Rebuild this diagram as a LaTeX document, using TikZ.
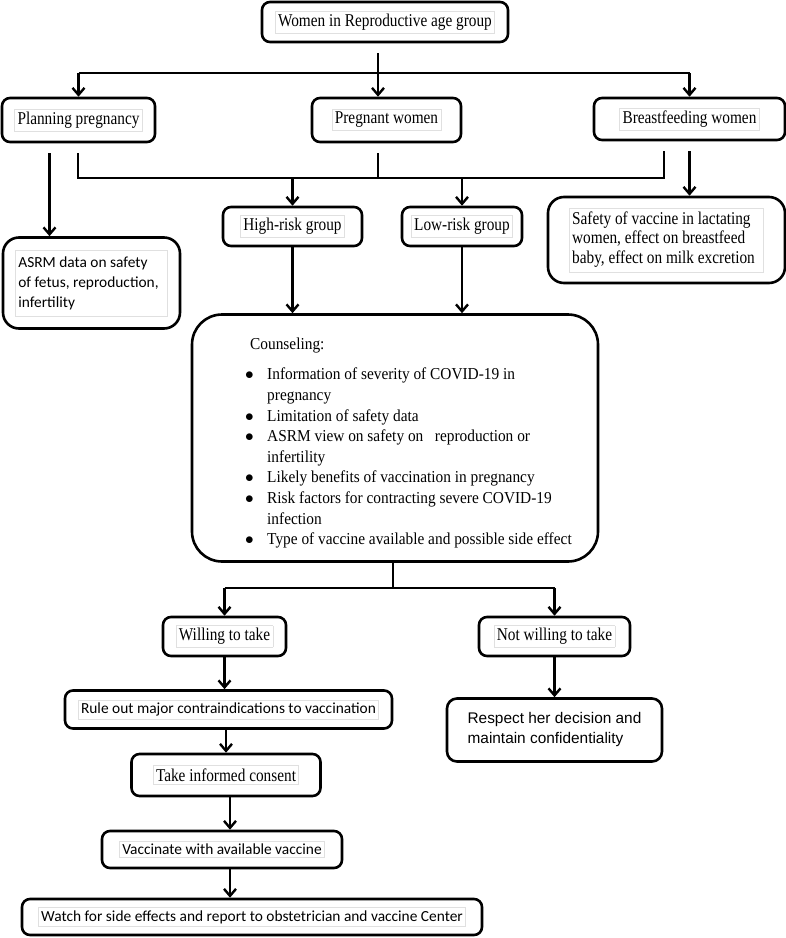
\documentclass[tikz,border=0pt]{standalone}
\usepackage{fontspec}
\setmainfont[FakeStretch=0.85]{Liberation Serif}
\newfontfamily\counselfont[FakeStretch=0.92]{Liberation Serif}
\newfontfamily\calibri{Carlito}
\newfontfamily\arial{Liberation Sans}
\usetikzlibrary{arrows.meta}

% faint frame round the text of a box
\newcommand{\inframe}[1]{{\setlength{\fboxsep}{2.5pt}\setlength{\fboxrule}{0.6pt}\fcolorbox{black!12}{white}{#1}}}
\newcommand{\bul}{\makebox[22pt][l]{\raisebox{0.5ex}{\rule{0pt}{0pt}\kern1pt\textbullet}}}

\tikzset{
  box/.style={draw, line width=2.6pt, rounded corners=8pt, inner sep=0pt,
    font=\fontsize{18}{20}\selectfont},
  roundbox/.style={box, rounded corners=16pt},
  bigbox/.style={box, rounded corners=30pt},
  line/.style={line width=2.4pt},
  arr/.style={line, -{Straight Barb[length=7pt,width=12pt]}},
}

\begin{document}
\begin{tikzpicture}[x=1pt, y=-1pt]
    \useasboundingbox (0,0) rectangle (786,938);

    % first row
    \node (top) [box, minimum width=246, minimum height=40] at (385,22) {\inframe{Women in Reproductive age group}};
    \node (plan) [box, minimum width=153, minimum height=44] at (78.5,120) {\inframe{Planning pregnancy}};
    \node (preg) [box, minimum width=149, minimum height=44] at (386.5,120) {\inframe{Pregnant women}};
    \node (breast) [box, minimum width=191, minimum height=42] at (689.5,119) {\inframe{Breastfeeding women}};

    % second row
    \node (asrm) [roundbox, minimum width=177, minimum height=91, font=\calibri\fontsize{15.4}{20}\selectfont] at (91.5,283)
        {\inframe{\begin{tabular}{@{}l@{\hspace{6pt}}}ASRM data on safety\\of fetus, reproduction,\\infertility\end{tabular}}};
    \node (high) [box, minimum width=139, minimum height=39] at (292.5,226.5) {\inframe{High-risk group}};
    \node (low) [box, minimum width=120, minimum height=39] at (462,226.5) {\inframe{Low-risk group}};
    \node (lact) [roundbox, minimum width=237, minimum height=86, font=\fontsize{18}{19.5}\selectfont] at (666.5,240)
        {\inframe{\begin{tabular}{@{}l@{\hspace{6pt}}}Safety of vaccine in lactating\\women, effect on breastfeed\\baby, effect on milk excretion\end{tabular}}};

    % counseling
    \node (counsel) [bigbox, minimum width=406, minimum height=247] at (395,438) {};
    \node (counseltext) [anchor=north west, align=left, inner sep=0pt, font=\counselfont\fontsize{16.7}{20.6}\selectfont] at (245,338) {%
        \hspace*{5pt}Counseling:\\[9.5pt]
        \makebox[22pt][l]{$\bullet$}Information of severity of COVID-19 in\\
        \hspace*{22pt}pregnancy\\
        \makebox[22pt][l]{$\bullet$}Limitation of safety data\\
        \makebox[22pt][l]{$\bullet$}ASRM view on safety on\ \ \ reproduction or\\
        \hspace*{22pt}infertility\\
        \makebox[22pt][l]{$\bullet$}Likely benefits of vaccination in pregnancy\\
        \makebox[22pt][l]{$\bullet$}Risk factors for contracting severe COVID-19\\
        \hspace*{22pt}infection\\
        \makebox[22pt][l]{$\bullet$}Type of vaccine available and possible side effect};

    % decision
    \node (willing) [box, minimum width=123, minimum height=39] at (224.5,636.5) {\inframe{Willing to take}};
    \node (notwill) [box, minimum width=151, minimum height=39] at (554.5,636.5) {\inframe{Not willing to take}};
    \node (ruleout) [box, minimum width=327, minimum height=38, font=\calibri\fontsize{15.4}{20}\selectfont] at (228.5,709.5) {\inframe{Rule out major contraindications to vaccination}};
    \node (respect) [roundbox, rounded corners=10pt, minimum width=215, minimum height=63, align=left, font=\arial\fontsize{15.4}{20}\selectfont] at (554.5,730)
        {Respect her decision and\\maintain confidentiality};
    \node (consent) [box, minimum width=189, minimum height=42] at (226,775) {\inframe{Take informed consent}};
    \node (vacc) [box, minimum width=240, minimum height=37, font=\calibri\fontsize{15.4}{20}\selectfont] at (222,849.5) {\inframe{Vaccinate with available vaccine}};
    \node (watch) [box, minimum width=460, minimum height=36, font=\calibri\fontsize{15.4}{20}\selectfont] at (252,917) {\inframe{Watch for side effects and report to obstetrician and vaccine Center}};

    % connectors
    \coordinate (bar1) at (378,73);
    \draw[line, shorten <=10pt] (top.south -| bar1) -- (bar1);
    \draw[line] (plan.north |- bar1) -- (breast.north |- bar1);
    \draw[arr] (plan.north |- bar1) -- (plan.north);
    \draw[arr] (bar1) -- (preg.north -| bar1);
    \draw[arr] (breast.north |- bar1) -- (breast.north);

    \coordinate (bar2l) at (78,178);
    \coordinate (bar2r) at (664,178);
    \draw[line, shorten <=10pt, shorten >=10pt] (plan.south -| bar2l) -- (bar2l) -- (bar2r) -- (breast.south -| bar2r);
    \draw[line, shorten <=10pt] (preg.south -| bar1) -- (bar1 |- bar2l);
    \draw[arr] (high.north |- bar2l) -- (high.north);
    \draw[arr] (low.north |- bar2l) -- (low.north);
    \draw[arr, shorten <=10pt] ([xshift=-29pt]plan.south) -- ([xshift=-29pt]plan.south |- asrm.north);
    \draw[arr, shorten <=10pt] (breast.south) -- (breast.south |- lact.north);

    \draw[arr] (high.south) -- (high.south |- counsel.north);
    \draw[arr] (low.south) -- (low.south |- counsel.north);

    \coordinate (bar3) at (393,588);
    \draw[line] (counsel.south -| bar3) -- (bar3);
    \draw[line] (willing.north |- bar3) -- (notwill.north |- bar3);
    \draw[arr] (willing.north |- bar3) -- (willing.north);
    \draw[arr] (notwill.north |- bar3) -- (notwill.north);

    \draw[arr] (willing.south) -- (willing.south |- ruleout.north);
    \draw[arr] (notwill.south) -- (notwill.south |- respect.north);
    \draw[arr] (consent.north |- ruleout.south) -- (consent.north);
    \draw[arr] ([xshift=4pt]consent.south) -- ([xshift=4pt]consent.south |- vacc.north);
    \draw[arr] ([xshift=8pt]vacc.south) -- ([xshift=8pt]vacc.south |- watch.north);
\end{tikzpicture}
\end{document}
